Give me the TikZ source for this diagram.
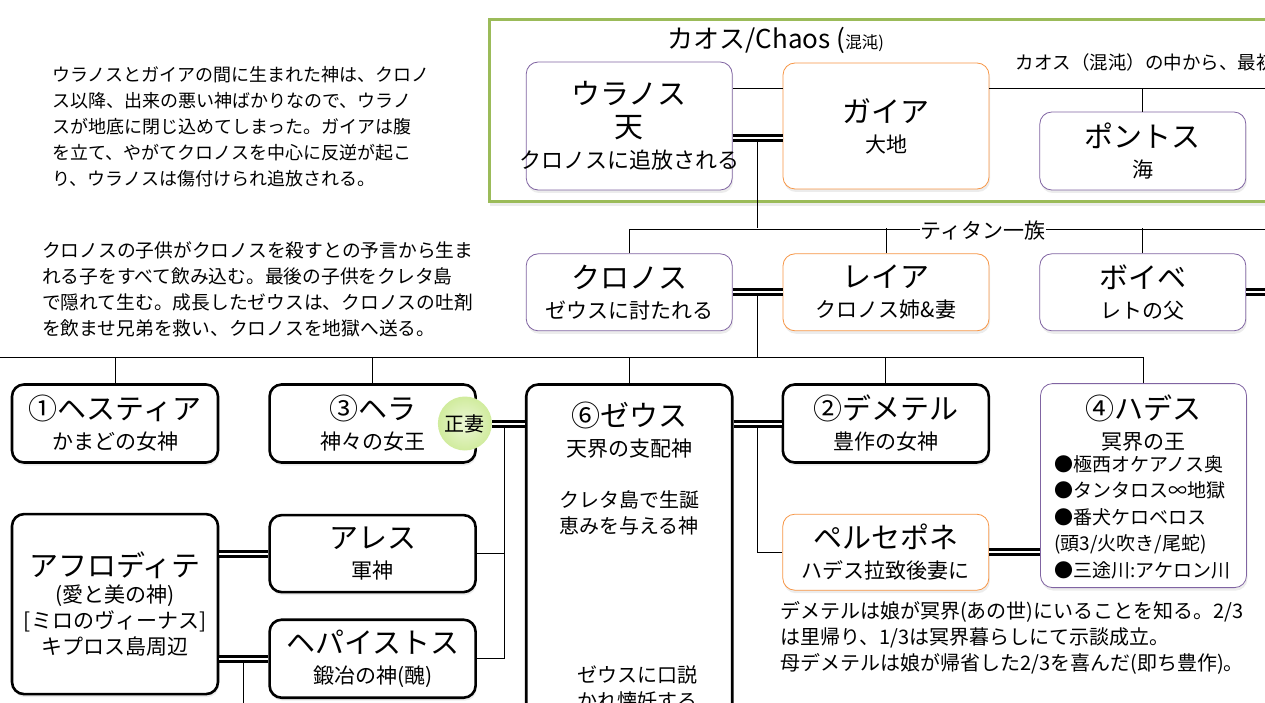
\documentclass[tikz,border=0pt]{standalone}
\usepackage{fontspec}
\setmainfont{Noto Sans CJK JP}
\usepackage{tikz}
\usetikzlibrary{positioning,calc,shadows}
\definecolor{titanline}{RGB}{128,100,162}
\definecolor{goddess}{RGB}{247,150,70}
\definecolor{chaosgreen}{RGB}{155,187,89}
\definecolor{wifegreen}{RGB}{200,232,140}
\newcommand{\gname}[1]{{\fontsize{29}{32}\selectfont #1}}
\newcommand{\story}{\fontsize{18}{26}\selectfont}

\begin{document}
\begin{tikzpicture}[x=1pt,y=-1pt,
  box/.style={draw,rounded corners=12pt,fill=white,align=center,minimum width=206pt,inner sep=2pt,
    font=\fontsize{21}{30}\selectfont,drop shadow={opacity=0.15,shadow xshift=1pt,shadow yshift=-3pt}},
  titan/.style={box,draw=titanline,line width=0.8pt},
  mother/.style={box,draw=goddess,line width=0.8pt},
  olymp/.style={box,line width=2.6pt},
  wife/.style={circle,minimum size=54pt,inner sep=0pt,shading=radial,inner color=wifegreen!35!white,
    outer color=wifegreen!85!white,font=\fontsize{20}{22}\selectfont},
  kin/.style={line width=0.8pt},
  wed/.style={line width=3pt,double=white,double distance=2pt},
  note/.style={align=left,inner sep=0pt,font=\story}]
\useasboundingbox (0,0) rectangle (1265,703);
\clip (0,0) rectangle (1265,703);
\draw[chaosgreen,line width=3pt,fill=white,drop shadow={opacity=0.15,shadow xshift=1pt,shadow yshift=-4pt}] (489,20) rectangle (1300,202);
\node (chaoslbl) at (776,40) {\fontsize{26}{28}\selectfont カオス/Chaos (\fontsize{16.5}{18}\selectfont 混沌)};
\node[anchor=west,font=\fontsize{18.5}{22}\selectfont] (chaosnote) at (1012,62) {カオス（混沌）の中から、最初};
\node[note,anchor=north west] (uranosstory) at (52,66) {ウラノスとガイアの間に生まれた神は、クロノ\\ス以降、出来の悪い神ばかりなので、ウラノ\\スが地底に閉じ込めてしまった。ガイアは腹\\を立て、やがてクロノスを中心に反逆が起こ\\り、ウラノスは傷付けられ追放される。};
\node[note,anchor=north west,font=\fontsize{18.75}{26}\selectfont] (kronosstory) at (42,241) {クロノスの子供がクロノスを殺すとの予言から生ま\\れる子をすべて飲み込む。最後の子供をクレタ島\\で隠れて生む。成長したゼウスは、クロノスの吐剤\\を飲ませ兄弟を救い、クロノスを地獄へ送る。};

\node[mother,minimum height=126pt] (gaia) at (886,126) {\gname{ガイア}\\大地};
\node[titan,minimum height=128pt,left=50pt of gaia] (uranos) {\gname{ウラノス}\\[3pt]\gname{天}\\[1pt]\makebox[186pt]{\fontsize{22}{26}\selectfont クロノスに追放される}};
\node[titan,minimum height=78pt,right=50pt of gaia,yshift=-25pt] (pontos) {\gname{ポントス}\\海};

\node[titan,minimum height=77pt,below=63pt of uranos] (kronos) {\gname{クロノス}\\ゼウスに討たれる};
\node[mother,minimum height=77pt,right=50pt of kronos] (rhea) {\gname{レイア}\\クロノス姉\&妻};
\node[titan,minimum height=77pt,right=50pt of rhea] (phoibe) {\gname{ボイベ}\\レトの父};

\node[olymp,minimum height=420pt,below=52pt of kronos] (zeus) {};
\node[align=center,inner sep=0pt,font=\fontsize{21}{30}\selectfont,below=19pt of zeus.north] (zeusname) {\gname{⑥ゼウス}\\天界の支配神};
\node[align=center,inner sep=0pt,font=\fontsize{20}{26}\selectfont,below=107pt of zeus.north] (zeusbirth) {クレタ島で生誕\\恵みを与える神};
\node[align=center,inner sep=0pt,font=\fontsize{20}{26}\selectfont,below=282pt of zeus.north,xshift=8pt] (zeusnote) {ゼウスに口説\\かれ懐妊する};
\node[olymp,minimum height=78pt,anchor=north east] (hera) at ([xshift=-48pt]zeus.north west) {\gname{③ヘラ}\\神々の女王};
\node[olymp,minimum height=78pt,left=49pt of hera] (hestia) {\gname{①ヘスティア}\\かまどの女神};
\node[wife] (seisai) at ([xshift=-12pt]hera.east) {正妻};
\node[olymp,minimum height=78pt,anchor=north west] (demeter) at ([xshift=48pt]zeus.north east) {\gname{②デメテル}\\豊作の女神};
\node[titan,minimum height=204pt,anchor=north west] (hades) at ([xshift=50pt]demeter.north east) {};
\node[align=center,inner sep=0pt,font=\fontsize{21}{30}\selectfont,below=11pt of hades.north] (hadesname) {\gname{④ハデス}\\冥界の王};
\node[note,anchor=north west,font=\fontsize{19}{26.5}\selectfont] (hadeslist) at ([xshift=14pt,yshift=-72pt]hades.north west) {●極西オケアノス奥\\●タンタロス∞地獄\\●番犬ケロベロス\\(頭3/火吹き/尾蛇)\\●三途川:アケロン川};

\node[olymp,minimum height=77pt,below=50pt of hera] (ares) {\gname{アレス}\\軍神};
\node[olymp,minimum height=78pt,below=25pt of ares] (hephaistos) {\gname{ヘパイストス}\\鍛冶の神(醜)};
\node[olymp,minimum height=180pt,below=49pt of hestia,font=\fontsize{21}{26}\selectfont] (aphrodite) {\gname{アフロディテ}\\(愛と美の神)\\{[ミロのヴィーナス]}\\キプロス島周辺};
\node[mother,minimum height=76pt,below=50pt of demeter] (persephone) {\gname{ペルセポネ}\\ハデス拉致後妻に};
\node[note,anchor=north west,font=\fontsize{20}{26}\selectfont] (demeterstory) at (780,601) {デメテルは娘が冥界(あの世)にいることを知る。2/3\\は里帰り、1/3は冥界暮らしにて示談成立。\\母デメテルは娘が帰省した2/3を喜んだ(即ち豊作)。};
\node[mother,minimum height=80pt,below=113pt of persephone] (nextgod) {};

\coordinate (chaosend) at (1275,88);
\draw[kin] ([yshift=38pt]gaia.west) -- ([yshift=38pt]gaia.west -| uranos.east);
\draw[kin] ([yshift=38pt]gaia.east) -- (chaosend);
\draw[kin] (pontos.north) -- (pontos.north |- chaosend);
\coordinate (ugwed) at ($([yshift=-12pt]uranos.east)!0.5!([yshift=-12pt]uranos.east -| gaia.west)$);
\coordinate (titanbus) at ([yshift=25pt]kronos.north);
\coordinate (titanend) at (1275,229);
\draw[kin] (ugwed) -- (ugwed |- titanbus);
\draw[kin] (kronos.north) |- (titanend);
\foreach \g in {rhea,phoibe} \draw[kin] (\g.north) -- (\g.north |- titanbus);
\node[fill=white,inner sep=1pt,font=\fontsize{21}{24}\selectfont] (titanlbl) at (983,231) {ティタン一族};
\draw[wed] ([yshift=-12pt]uranos.east) -- ([yshift=-12pt]uranos.east -| gaia.west);

\coordinate (krwed) at ($(kronos.east)!0.5!(rhea.west)$);
\coordinate (childbus) at ([yshift=26pt]zeus.north);
\coordinate (childend) at (-5,357);
\draw[kin] (krwed) -- (krwed |- childbus);
\draw[kin] (childend) -- (childend -| hades.north);
\foreach \g in {hestia,hera,zeus,demeter,hades} \draw[kin] (\g.north) -- (\g.north |- childbus);
\draw[wed] (kronos.east) -- (rhea.west);
\coordinate (phoibeend) at (1275,292.5);
\draw[wed] (phoibe.east) -- (phoibeend |- phoibe.east);

\coordinate (hzwed) at ([xshift=12pt]seisai.east);
\draw[kin] (hzwed) |- (hephaistos.east);
\draw[kin] (hzwed |- ares.east) -- (ares.east);
\draw[wed] (seisai.east) -- (seisai.east -| zeus.west);
\coordinate (zdwed) at ($(zeus.east |- demeter.west)!0.5!(demeter.west)$);
\draw[kin] (zdwed) |- (persephone.west);
\draw[wed] (zeus.east |- demeter.west) -- (demeter.west);
\draw[wed] (persephone.east) -- (persephone.east -| hades.west);

\coordinate (ahwed) at ($(hephaistos.west -| aphrodite.east)!0.5!(hephaistos.west)$);
\coordinate (aphchild) at ([yshift=-60pt]ahwed);
\draw[kin] (ahwed) -- (aphchild);
\draw[wed] (ares.west -| aphrodite.east) -- (ares.west);
\draw[wed] (hephaistos.west -| aphrodite.east) -- (hephaistos.west);
\end{tikzpicture}
\end{document}
